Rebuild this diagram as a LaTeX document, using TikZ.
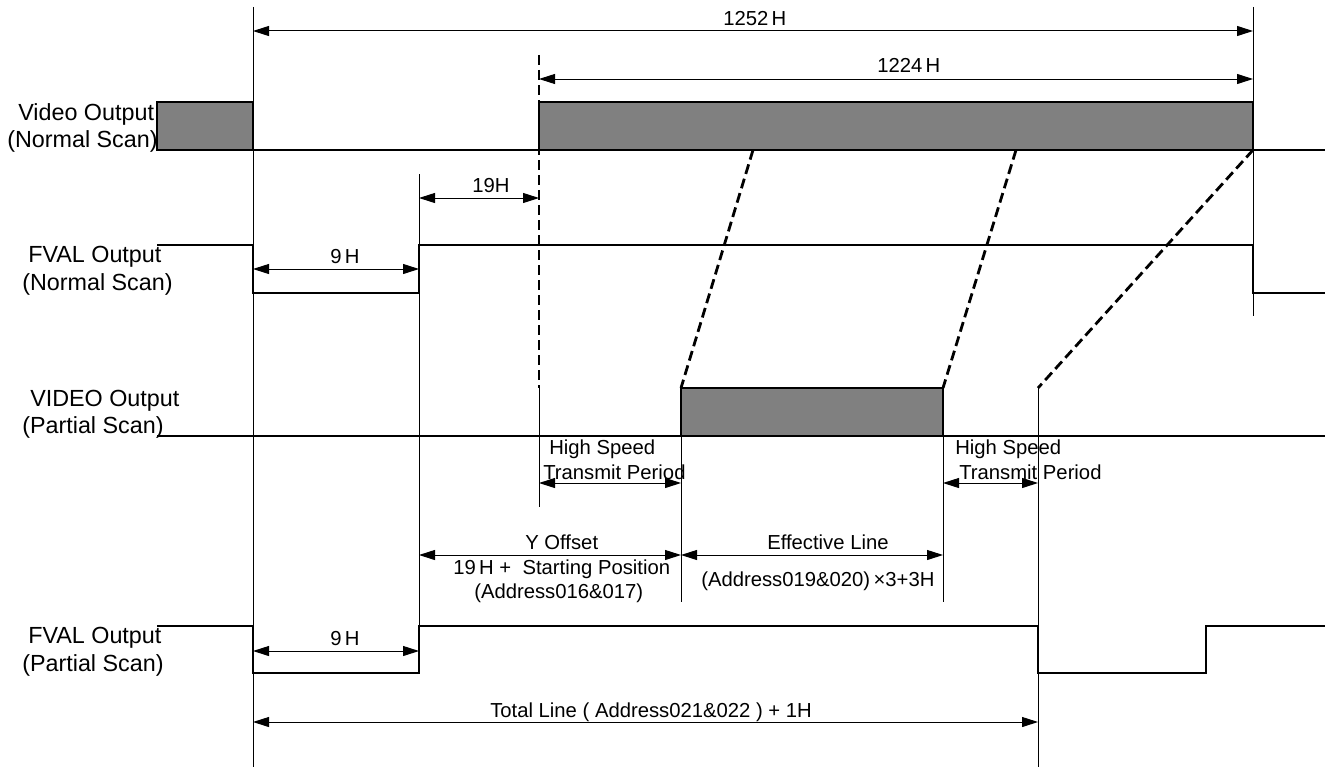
\documentclass[tikz,border=0pt]{standalone}
\usepackage{fontspec}
\setmainfont{Liberation Sans}
\usetikzlibrary{arrows.meta}
\definecolor{boxgray}{HTML}{808080}
\tikzset{
  sig/.style={line width=1.5pt, line join=miter},
  guide/.style={line width=0.75pt},
  dim/.style={line width=0.75pt, {Triangle[length=12pt,width=7.5pt]}-{Triangle[length=12pt,width=7.5pt]}},
  proj/.style={line width=2.1pt, dash pattern=on 7.5pt off 3.75pt},
  blk/.style={fill=boxgray, draw=black, line width=1.5pt},
  lbl/.style={font=\fontsize{17.5}{20}\selectfont, anchor=base west, inner sep=0pt},
  txt/.style={font=\fontsize{15.2}{18}\selectfont, anchor=base west, inner sep=0pt},
}
\begin{document}
\begin{tikzpicture}[x=0.75pt,y=-0.75pt]
\useasboundingbox (0,0) rectangle (1333,767);
% guide coordinates
\coordinate (gAt) at (253,7);   \coordinate (gAb) at (253,767);
\coordinate (gBt) at (419,174); \coordinate (gBb) at (419,626);
\coordinate (gCt) at (539,55);  \coordinate (gCm) at (539,388); \coordinate (gCb) at (539,507);
\coordinate (gDt) at (681,388); \coordinate (gDb) at (681,602);
\coordinate (gEt) at (943,388); \coordinate (gEb) at (943,602);
\coordinate (gFt) at (1038,388); \coordinate (gFb) at (1038,767);
\coordinate (gGt) at (1253,7);  \coordinate (gGb) at (1253,316);
% guides
\draw[guide] (gAt) -- (gAb);
\draw[guide] (gBt) -- (gBb);
\draw[proj] (gCt) -- (gCm);
\draw[guide] (gCm) -- (gCb);
\draw[guide] (gDt) -- (gDb);
\draw[guide] (gEt) -- (gEb);
\draw[guide] (gFt) -- (gFb);
\draw[guide] (gGt) -- (gGb);
% projection dashed lines
\coordinate (pA) at (753,150);  \coordinate (pB) at (1016,150); \coordinate (pC) at (1253,150);
\draw[proj] (pA) -- (gDt);
\draw[proj] (pB) -- (gEt);
\draw[proj] (pC) -- (gFt);
% Video output normal scan
\draw[sig] (157,150) -- (1325,150);
\draw[blk] (157,102) rectangle (253,150);
\draw[blk] (539,102) rectangle (1253,150);
% FVAL normal scan
\draw[sig] (157,245) -| (253,293) -| (419,245) -| (1253,293) -- (1325,293);
% Video output partial scan
\draw[sig] (157,436) -- (1325,436);
\draw[blk] (681,388) rectangle (943,436);
% FVAL partial scan
\draw[sig] (157,626) -| (253,673) -| (419,626) -| (1038,673) -| (1206,626) -- (1325,626);
% dimension arrows
\coordinate (d1a) at (253,31);  \coordinate (d1b) at (1253,31);
\coordinate (d2a) at (539,79);  \coordinate (d2b) at (1253,79);
\coordinate (d3a) at (419,198); \coordinate (d3b) at (539,198);
\coordinate (d4a) at (253,269); \coordinate (d4b) at (419,269);
\coordinate (d5a) at (539,483); \coordinate (d5b) at (681,483);
\coordinate (d6a) at (943,483); \coordinate (d6b) at (1038,483);
\coordinate (d7a) at (419,555); \coordinate (d7b) at (681,555);
\coordinate (d8a) at (681,555); \coordinate (d8b) at (943,555);
\coordinate (d9a) at (253,651); \coordinate (d9b) at (419,651);
\coordinate (d10a) at (253,722); \coordinate (d10b) at (1038,722);
\draw[dim] (d1a) -- (d1b);
\draw[dim] (d2a) -- (d2b);
\draw[dim] (d3a) -- (d3b);
\draw[dim] (d4a) -- (d4b);
\draw[dim] (d5a) -- (d5b);
\draw[dim] (d6a) -- (d6b);
\draw[dim] (d7a) -- (d7b);
\draw[dim] (d8a) -- (d8b);
\draw[dim] (d9a) -- (d9b);
\draw[dim] (d10a) -- (d10b);
% left labels
\node[lbl] (l1a) at (18,120) {Video Output};
\node[lbl] (l1b) at (7,147) {(Normal Scan)};
\node[lbl] (l2a) at (28,262) {FVAL Output};
\node[lbl] (l2b) at (22,290) {(Normal Scan)};
\node[lbl] (l3a) at (30,406) {VIDEO Output};
\node[lbl] (l3b) at (22,433) {(Partial Scan)};
\node[lbl] (l4a) at (28,643) {FVAL Output};
\node[lbl] (l4b) at (22,671) {(Partial Scan)};
% inner labels
\node[txt] (t1) at (723,26) {1252\,H};
\node[txt] (t2) at (877,73) {1224\,H};
\node[txt] (t3) at (472,192) {19H};
\node[txt] (t4) at (330,263) {9\,H};
\node[txt] (t5) at (330,645) {9\,H};
\node[txt] (t6a) at (549,454) {High Speed};
\node[txt] (t6b) at (543,479) {Transmit Period};
\node[txt] (t7a) at (955,454) {High Speed};
\node[txt] (t7b) at (959,479) {Transmit Period};
\node[txt] (t8a) at (525,549) {Y Offset};
\node[txt] (t8b) at (453,574) {19\,H +\ \ Starting Position};
\node[txt] (t8c) at (474,598) {(Address016\&017)};
\node[txt] (t9a) at (767,549) {Effective Line};
\node[txt] (t9b) at (701,586) {(Address019\&020)\,×3+3H};
\node[txt] (t10) at (490,717) {Total Line (\ Address021\&022\ ) + 1H};
\end{tikzpicture}
\end{document}
